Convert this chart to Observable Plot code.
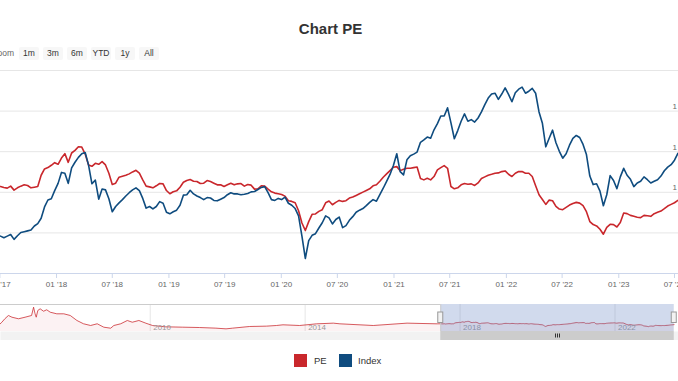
<!DOCTYPE html>
<html><head><meta charset="utf-8">
<script src="https://cdn.jsdelivr.net/npm/d3@7"></script>
<script src="https://cdn.jsdelivr.net/npm/@observablehq/plot@0.6"></script>
<style>
html,body{margin:0;padding:0;background:#fff;overflow:hidden;}
body{width:678px;height:381px;font-family:"Liberation Sans",Arial,sans-serif;}
#header{position:relative;height:62px;}
#title{position:absolute;left:330.5px;top:21px;transform:translateX(-50%);font-size:15px;font-weight:bold;line-height:15px;color:#333;white-space:nowrap;}
.btn{position:absolute;top:47px;width:20px;height:13px;line-height:13px;font-size:8.5px;text-align:center;background:#f7f7f7;color:#333;border-radius:2px;}
#zoomlabel{position:absolute;top:47px;right:664px;line-height:13px;font-size:8.5px;color:#666;white-space:nowrap;}
svg{display:block;}
#legend{position:relative;height:41px;font-size:9.5px;color:#333;}
.sw{position:absolute;top:14px;width:13px;height:13px;}
.lt{position:absolute;top:14px;line-height:13px;}
</style></head>
<body>
<div id="header"><div id="title"></div><div id="zoomlabel">Zoom</div></div>
<div id="main"></div>
<div id="nav"></div>
<div id="scroll"></div>
<div id="legend"></div>
<script>
// ---- data ----
const titleText = "Chart PE";
const buttons = ["1m", "3m", "6m", "YTD", "1y", "All"];
const seriesNames = ["PE", "Index"];
const colors = ["#c9272c", "#0f4c7f"];
const startDate = "2017-07-03";
const stepDays = 11;
const viewRange = ["2017-07-03", "2023-07-14"];
const navRange = ["2006-02-19", "2023-08-23"];
const xTicks = ["2017-07-01","2018-01-01","2018-07-01","2019-01-01","2019-07-01","2020-01-01","2020-07-01","2021-01-01","2021-07-01","2022-01-01","2022-07-01","2023-01-01","2023-07-01"];
const indexGrid = [1000, 1100, 1200, 1300, 1400];
const indexLabels = [1100, 1200, 1300];
const navTicks = ["2010-01-01", "2014-01-01", "2018-01-01", "2022-01-01"];

const peValues = [
15.71,15.59,15.51,15.76,15.27,15.55,15.76,15.92,15.84,15.55,15.63,15.71,17.10,17.88,18.04,18.33,18.65,18.45,19.22,19.76,
18.69,19.84,20.16,20.61,20.57,19.71,18.37,18.20,18.57,18.45,18.78,18.37,17.35,15.96,16.12,16.86,16.98,17.10,17.27,17.51,
17.71,17.35,16.53,15.76,15.67,15.55,15.80,16.08,16.04,15.22,14.82,
15.06,15.18,15.63,16.24,16.45,16.57,16.37,16.33,16.08,16.12,16.45,16.33,16.12,15.92,15.92,15.71,15.92,16.12,15.92,16.04,
16.08,15.76,15.96,15.88,15.39,15.43,15.80,15.76,15.39,15.06,14.90,14.82,14.73,14.53,13.96,13.88,13.71,12.73,11.22,10.29,
11.39,12.29,12.33,12.65,12.86,13.71,13.92,13.47,13.76,14.00,
13.88,13.96,14.29,14.41,14.61,14.82,15.02,15.22,15.43,15.80,15.92,16.37,16.86,17.27,17.67,18.08,18.16,17.67,17.84,17.96,
17.96,18.04,18.12,16.69,16.53,16.73,16.53,16.94,17.76,18.04,18.29,17.96,15.71,15.43,15.55,15.92,16.08,16.00,16.04,15.84,
16.16,16.69,16.90,17.10,17.22,17.35,17.39,17.55,17.63,17.22,
16.94,17.35,17.55,17.55,17.35,17.35,16.94,15.80,14.69,14.12,13.51,14.04,13.96,13.27,12.94,12.86,13.14,13.43,13.63,13.76,
13.67,13.35,12.61,11.39,11.02,10.86,10.45,9.84,10.69,11.06,11.02,10.73,11.27,12.45,12.37,12.16,12.04,11.92,11.88,12.16,
12.12,12.04,12.37,12.53,12.69,12.98,13.31,13.51,13.71,14.00];

const indexValues = [
992,988,992,996,984,993,1001,1003,1005,1007,1017,1023,1036,1064,1081,1084,1104,1122,1149,1147,
1122,1160,1174,1186,1195,1198,1167,1121,1130,1083,1108,1106,1084,1052,1065,1074,1082,1091,1099,1106,
1111,1104,1085,1061,1065,1059,1065,1077,1073,1051,1047,
1052,1056,1068,1093,1094,1105,1096,1091,1087,1082,1087,1086,1080,1079,1083,1087,1094,1099,1096,1096,
1094,1095,1097,1101,1102,1107,1112,1114,1099,1082,1080,1085,1082,1088,1073,1068,1060,1042,992,937,
981,994,998,1012,1025,1042,1037,1022,1033,1039,
1013,1018,1031,1040,1051,1056,1060,1067,1075,1082,1078,1094,1110,1127,1144,1166,1195,1151,1143,1180,
1190,1194,1199,1223,1229,1236,1233,1254,1269,1288,1288,1308,1271,1232,1252,1275,1293,1275,1279,1273,
1283,1298,1316,1332,1342,1344,1329,1342,1357,1341,
1323,1345,1354,1359,1344,1349,1356,1344,1298,1270,1212,1233,1253,1222,1201,1184,1195,1216,1233,1240,
1235,1218,1193,1140,1119,1121,1103,1067,1094,1141,1129,1109,1138,1159,1142,1132,1114,1123,1127,1138,
1131,1123,1127,1131,1140,1153,1162,1168,1179,1196];

// earlier PE history shown only in the navigator
const navHistDates = ["2006-01-30","2006-03-04","2006-04-01","2006-05-05","2006-06-07","2006-08-08","2006-10-09","2006-12-09","2006-12-28","2007-01-11",
"2007-01-22","2007-02-06","2007-02-28","2007-04-01","2007-05-01","2007-06-03","2007-08-04","2007-10-09","2007-12-09","2008-02-10",
"2008-04-12","2008-06-18","2008-08-19","2008-10-20","2008-12-24","2009-01-23","2009-03-29","2009-05-30","2009-07-16","2009-09-16",
"2009-11-21","2010-01-23","2010-05-27","2010-10-30","2011-04-09","2011-09-13","2011-12-17","2012-02-17","2012-07-27","2013-01-01",
"2013-04-05","2013-06-06","2013-11-10","2014-04-20","2014-09-24","2014-11-25","2015-10-05","2016-08-19","2017-05-30"];
const navHistPE = [12.2,18.9,25.9,32.6,29.1,25.9,29.1,32.6,49.5,36.0,
29.1,42.8,46.2,41.3,44.2,39.3,36.0,36.0,32.6,22.4,
15.7,12.2,15.7,8.8,6.7,12.2,15.7,22.4,18.9,22.4,
16.9,12.2,9.5,8.8,8.1,6.8,5.4,6.8,10.2,10.9,
12.2,13.6,12.2,15.6,17.0,15.6,12.2,17.0,15.6];

// ---- build ----
const parse = d3.utcParse("%Y-%m-%d");
const start = parse(startDate);
const rows = peValues.map((v, i) => ({date: d3.utcDay.offset(start, i * stepDays), pe: v, index: indexValues[i]}));
const peToIndexAxis = pe => 800 + 20 * pe; // PE axis (hidden, left) aligned to the shared grid
const sel = [{a: parse(viewRange[0]), b: parse(viewRange[1])}];
const navDomain = [parse(navRange[0]), parse(navRange[1])];
const font = "'Liberation Sans', Arial, sans-serif";

document.getElementById("title").textContent = titleText;
const header = document.getElementById("header");
buttons.forEach((b, i) => {
  const el = document.createElement("div");
  el.className = "btn"; el.textContent = b;
  el.style.left = (19 + i * 24) + "px";
  header.appendChild(el);
});

const main = Plot.plot({
  width: 678, height: 232, marginTop: 8, marginBottom: 21, marginLeft: 0, marginRight: 0,
  style: {fontFamily: font, fontSize: "8px", background: "white", overflow: "hidden"},
  x: {type: "utc", domain: [parse(viewRange[0]), parse(viewRange[1])], label: null},
  y: {domain: [900, 1400], axis: null},
  marks: [
    Plot.gridY(indexGrid, {stroke: "#e6e6e6", strokeOpacity: 1}),
    Plot.ruleY([900], {stroke: "#ccd6eb"}),
    Plot.axisX(xTicks.map(parse), {tickSize: 5, tickPadding: 3, stroke: "#ccd6eb", fill: "#666", tickFormat: d3.utcFormat("%m '%y"), label: null}),
    Plot.text(indexLabels, {y: d => d, text: d => d3.format(",")(d).replace(",", " "), frameAnchor: "right", textAnchor: "start", dx: -6, dy: -4.5, fill: "#666", fontSize: 8}),
    Plot.line(rows, {x: "date", y: d => peToIndexAxis(d.pe), stroke: colors[0], strokeWidth: 1.6}),
    Plot.line(rows, {x: "date", y: "index", stroke: colors[1], strokeWidth: 1.6})
  ]
});
document.getElementById("main").appendChild(main);

const navRows = navHistDates.map((d, i) => ({date: parse(d), pe: navHistPE[i]}))
  .concat(rows.map(r => ({date: r.date, pe: r.pe})));

const nav = Plot.plot({
  width: 678, height: 37, marginTop: 10, marginBottom: 0, marginLeft: 0, marginRight: 0,
  style: {fontFamily: font, fontSize: "8px", background: "white", overflow: "hidden"},
  x: {type: "utc", domain: navDomain, axis: null},
  y: {domain: [0, 55], axis: null},
  marks: [
    Plot.ruleX(navTicks.map(parse), {stroke: "#e6e6e6"}),
    Plot.areaY(navRows, {x: "date", y: "pe", fill: colors[0], fillOpacity: 0.06}),
    Plot.lineY(navRows, {x: "date", y: "pe", stroke: colors[0], strokeWidth: 1, strokeOpacity: 0.75}),
    Plot.text(navTicks, {x: d => parse(d), text: d => d.slice(0, 4), frameAnchor: "bottom", textAnchor: "start", lineAnchor: "bottom", dx: 3, dy: -2, fill: "#999", fontSize: 8}),
    Plot.rect(sel, {x1: "a", x2: "b", fill: "rgb(102,133,194)", fillOpacity: 0.3}),
    Plot.ruleY([{a: navDomain[0], b: sel[0].a}], {y: () => 55, x1: "a", x2: "b", stroke: "#cccccc"}),
    Plot.ruleX(sel, {x: "a", stroke: "#cccccc"}),
    Plot.rect([{d: sel[0].a}, {d: sel[0].b}], {x1: "d", x2: "d", insetLeft: -2.5, insetRight: -2.5, insetTop: 8, insetBottom: 8.5, fill: "#f2f2f2", stroke: "#999999", strokeWidth: 1})
  ]
});
document.getElementById("nav").appendChild(nav);

const mid = new Date((sel[0].a.getTime() + sel[0].b.getTime()) / 2);
const scroll = Plot.plot({
  width: 678, height: 9, margin: 0,
  style: {background: "white"},
  x: {type: "utc", domain: navDomain, axis: null},
  marks: [
    Plot.frame({fill: "#f2f2f2", stroke: null}),
    Plot.rect(sel, {x1: "a", x2: "b", fill: "#cccccc"}),
    Plot.tickX([mid], {dx: -2, insetTop: 2.5, insetBottom: 2.5, stroke: "#333"}),
    Plot.tickX([mid], {insetTop: 2.5, insetBottom: 2.5, stroke: "#333"}),
    Plot.tickX([mid], {dx: 2, insetTop: 2.5, insetBottom: 2.5, stroke: "#333"})
  ]
});
document.getElementById("scroll").appendChild(scroll);

const legend = document.getElementById("legend");
[[294, 314], [339, 358]].forEach(([sx, tx], i) => {
  const sw = document.createElement("div");
  sw.className = "sw"; sw.style.left = sx + "px"; sw.style.background = colors[i];
  const t = document.createElement("div");
  t.className = "lt"; t.style.left = tx + "px"; t.textContent = seriesNames[i];
  legend.appendChild(sw); legend.appendChild(t);
});
</script>
</body></html>
